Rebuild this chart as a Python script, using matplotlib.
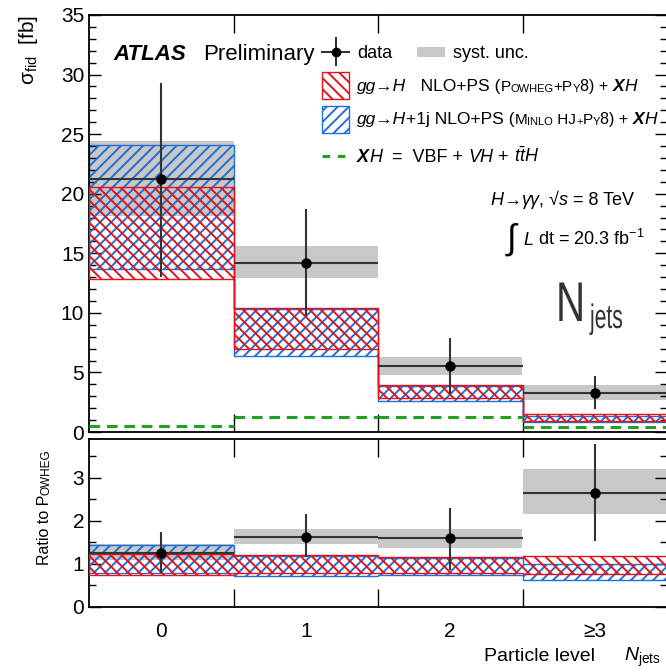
import numpy as np
import matplotlib
matplotlib.use('Agg')
import matplotlib.pyplot as plt
import matplotlib.transforms as mtrans
from matplotlib.patches import Rectangle, PathPatch
from matplotlib.lines import Line2D
from matplotlib.textpath import TextPath
from matplotlib.font_manager import FontProperties

plt.rcParams['font.family'] = ['Liberation Sans', 'DejaVu Sans']
plt.rcParams['mathtext.fontset'] = 'custom'
plt.rcParams['mathtext.rm'] = 'Liberation Sans'
plt.rcParams['mathtext.it'] = 'Liberation Sans:italic'
plt.rcParams['mathtext.bf'] = 'Liberation Sans:bold'
plt.rcParams['hatch.linewidth'] = 1.4

W, H = 666, 672

# ---- data ----
categories = ['0', '1', '2', '≥3']

data = [21.2, 14.15, 5.52, 3.28]
data_err_up = [8.1, 4.55, 2.41, 1.4]
data_err_dn = [8.2, 4.45, 2.35, 1.38]
syst_lo = [18.1, 12.9, 4.77, 2.7]
syst_hi = [24.4, 15.6, 6.3, 3.95]
powheg_lo = [12.85, 7.0, 2.83, 0.92]
powheg_hi = [20.6, 10.4, 3.95, 1.49]
minlo_lo = [13.7, 6.4, 2.6, 0.8]
minlo_hi = [24.1, 10.3, 3.9, 1.35]
xh = [0.5, 1.26, 1.3, 0.42]

ratio = [1.26, 1.63, 1.6, 2.65]
ratio_err_up = [0.48, 0.53, 0.7, 1.13]
ratio_err_dn = [0.48, 0.47, 0.75, 1.12]
ratio_syst_lo = [1.08, 1.47, 1.37, 2.15]
ratio_syst_hi = [1.46, 1.8, 1.81, 3.2]
ratio_powheg_lo = [0.74, 0.78, 0.8, 0.76]
ratio_powheg_hi = [1.23, 1.2, 1.15, 1.18]
ratio_minlo_lo = [0.8, 0.72, 0.75, 0.63]
ratio_minlo_hi = [1.45, 1.18, 1.13, 1.0]

RED = '#e3131b'
BLUE = '#1f6fd6'
GREEN = '#22a022'
GREY = '#c8c8c8'
HATCH_R = '\\' * 3
HATCH_B = '/' * 3

fig = plt.figure(figsize=(W / 100, H / 100), dpi=100)
ax = fig.add_axes([89 / W, 1 - 432 / H, 578 / W, 417 / H])
rax = fig.add_axes([89 / W, 1 - 607 / H, 578 / W, 168 / H])

x = np.arange(len(categories))
edges = np.arange(len(categories) + 1) - 0.5
xs = np.repeat(edges, 2)[1:-1]


def band(a, lo, hi, hatch, color, z):
    a.fill_between(xs, np.repeat(lo, 2), np.repeat(hi, 2), facecolor='none',
                   edgecolor=color, hatch=hatch, linewidth=1.0, zorder=z)


def panel(a, d, eup, edn, slo, shi, plo, phi, mlo, mhi, line=None):
    a.bar(x, np.array(shi) - np.array(slo), bottom=slo, width=1.0,
          color=GREY, linewidth=0, zorder=1)
    band(a, mlo, mhi, HATCH_B, BLUE, 2)
    band(a, plo, phi, HATCH_R, RED, 3)
    if line is not None:
        a.hlines(line, x - 0.5, x + 0.5, colors=GREEN, linestyles=(0, (3.5, 2.2)),
                 linewidth=2.2, zorder=4)
    a.errorbar(x, d, yerr=[edn, eup], xerr=0.5, fmt='o', color='black', ms=6.5,
               ecolor='#333333', elinewidth=1.5, capsize=0, zorder=5)


panel(ax, data, data_err_up, data_err_dn, syst_lo, syst_hi,
      powheg_lo, powheg_hi, minlo_lo, minlo_hi, line=xh)
panel(rax, ratio, ratio_err_up, ratio_err_dn, ratio_syst_lo, ratio_syst_hi,
      ratio_powheg_lo, ratio_powheg_hi, ratio_minlo_lo, ratio_minlo_hi)

ax.set_ylim(0, 35)
ax.set_yticks(np.arange(0, 36, 5))
ax.set_yticks(np.arange(0, 36, 1), minor=True)
rax.set_ylim(0, 3.9)
rax.set_yticks([0, 1, 2, 3])
rax.set_yticks(np.arange(0, 3.9, 0.5), minor=True)

for a in (ax, rax):
    a.set_xlim(-0.5, 3.5)
    a.set_xticks(x)
    a.set_xticks(edges[1:-1], minor=True)
    a.tick_params(axis='x', which='major', length=0, pad=11, labelsize=15)
    a.tick_params(axis='x', which='minor', length=13, width=1, direction='in',
                  top=True, bottom=True)
    a.tick_params(axis='y', which='major', length=8.5, width=1, direction='in',
                  left=True, right=True, labelsize=15, pad=3.5)
    a.tick_params(axis='y', which='minor', length=5, width=1, direction='in',
                  left=True, right=True)
    for s in a.spines.values():
        s.set_linewidth(1.3)
ax.set_xticklabels([])
rax.set_xticklabels(categories)

STY = {'n': {}, 'i': {'style': 'italic'}, 'b': {'weight': 'bold'},
       'bi': {'style': 'italic', 'weight': 'bold'}}


def chain(px, py, pieces, rotation=0):
    t = None
    for s, size, st in pieces:
        kw = dict(fontsize=size, **STY[st])
        if t is None:
            if rotation:
                t = fig.text(px / W, 1 - py / H, s, rotation=90, ha='right', va='bottom', **kw)
            else:
                t = fig.text(px / W, 1 - py / H, s, ha='left', va='baseline', **kw)
        elif rotation:
            t = ax.annotate(s, xy=(1, 1), xycoords=t, ha='right', va='bottom',
                            rotation=90, annotation_clip=False, **kw)
        else:
            t = ax.annotate(s, xy=(1, 0), xycoords=t, ha='left', va='bottom',
                            annotation_clip=False, **kw)
    return t


fp = FontProperties(family='Liberation Sans')


def squeezed(s, px, py, em, sx):
    tp = TextPath((0, 0), s, size=em, prop=fp)
    tr = mtrans.Affine2D().scale(sx, 1).translate(px, H - py)
    fig.add_artist(PathPatch(tp, transform=tr, facecolor='#333333', lw=0))


# ATLAS label
chain(113, 60, [('ATLAS', 16, 'bi')])
chain(203, 60, [('Preliminary', 16, 'n')])

# legend
fig.add_artist(Line2D([322 / W, 349 / W], [1 - 52 / H] * 2, color='#333333', lw=1.5))
fig.add_artist(Line2D([336 / W] * 2, [1 - 38 / H, 1 - 65 / H], color='#333333', lw=1.5))
fig.add_artist(Line2D([336 / W], [1 - 52 / H], marker='o', ms=6, color='black'))
chain(357, 58, [('data', 13, 'n')])
fig.add_artist(Rectangle((417 / W, 1 - 57 / H), 28 / W, 10 / H, color=GREY, lw=0))
chain(453, 58, [('syst. unc.', 13, 'n')])

fig.add_artist(Rectangle((322 / W, 1 - 99 / H), 27 / W, 27 / H, facecolor='none',
                         edgecolor=RED, hatch=HATCH_R, lw=1.0))
chain(357, 91, [('gg→H', 12.5, 'i'), ('   NLO+PS (', 12.5, 'n'), ('P', 11, 'n'),
                ('OWHEG', 8, 'n'), ('+P', 11, 'n'), ('Y', 8, 'n'),
                ('8) + ', 11.5, 'n'), ('X', 12.5, 'bi'), ('H', 12.5, 'i')])
fig.add_artist(Rectangle((322 / W, 1 - 133 / H), 27 / W, 27 / H, facecolor='none',
                         edgecolor=BLUE, hatch=HATCH_B, lw=1.0))
chain(357, 124, [('gg→H', 12.5, 'i'), ('+1j NLO+PS (', 12.5, 'n'), ('M', 11, 'n'),
                 ('INLO', 8, 'n'), (' HJ', 11, 'n'), ('+', 8, 'n'),
                 ('P', 11, 'n'), ('Y', 8, 'n'), ('8) + ', 11.5, 'n'),
                 ('X', 12.5, 'bi'), ('H', 12.5, 'i')])
fig.add_artist(Line2D([322 / W, 349 / W], [1 - 156 / H] * 2, color=GREEN, lw=2.2,
                      ls=(0, (2.5, 2.5))))
chain(357, 162, [('X', 13, 'bi'), ('H', 13, 'i'), ('  =  VBF + ', 13, 'n'),
                 ('VH', 13, 'i'), (' + ', 13, 'n'), (r'$t\bar{t}H$', 13, 'n')])

chain(490, 205, [('H', 13, 'i'), ('→', 13, 'n'), ('γγ', 13, 'i'), (', ', 13, 'n'),
                 ('√', 13, 'n'), ('s', 13, 'i'), (' = 8 TeV', 13, 'n')])
fig.text(507 / W, 1 - 249 / H, '∫', ha='left', va='baseline', fontsize=25)
chain(523, 245, [('L', 13, 'i'), (r' dt = 20.3 fb$^{-1}$', 13, 'n')])

# big N_jets label (condensed)
squeezed('N', 556, 321, 56, 0.72)
squeezed('jets', 590, 328, 34, 0.62)

# axis titles
fig.text(17 / W, 1 - 15 / H, r'σ$_{\mathrm{fid}}$  [fb]', rotation=90, ha='left',
         va='top', fontsize=15)
chain(52, 565, [('Ratio to P', 11.5, 'n'), ('OWHEG', 8.5, 'n')], rotation=90)
fig.text(484 / W, 1 - 661 / H, 'Particle level', ha='left', va='baseline', fontsize=14)
fig.text(624 / W, 1 - 661 / H, r'$N_{\mathrm{jets}}$', ha='left', va='baseline',
         fontsize=14)

fig.savefig('out.png', dpi=100)
